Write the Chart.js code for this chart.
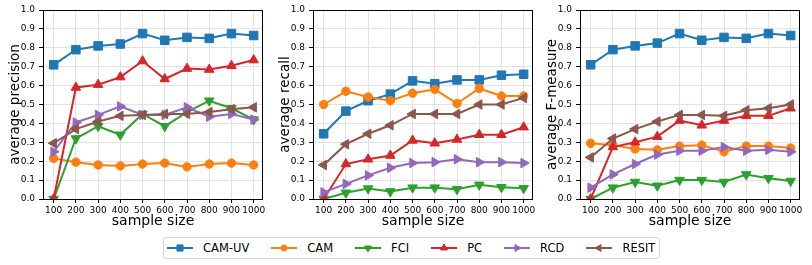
<!DOCTYPE html>
<html>
<head>
<meta charset="utf-8">
<title>average precision / recall / F-measure</title>
<script src="https://cdn.jsdelivr.net/npm/chart.js@4.4.1/dist/chart.umd.min.js"></script>
<style>
  html, body { margin: 0; padding: 0; background: #fff; }
  #page { position: relative; width: 812px; height: 265px; font-family: 'DejaVu Sans', sans-serif; }
  .panel { position: absolute; top: 0; }
  #legend {
    position: absolute; left: 163px; top: 237px; height: 22px;
    box-sizing: border-box; border: 1px solid #d6d6d6; border-radius: 3px;
    display: flex; align-items: center; padding: 0 4px 0 3px; background: #fff;
  }
  .item { display: flex; align-items: center; margin-right: 22px; font-size: 11.5px; color: #000; }
  .item:last-child { margin-right: 0; }
  .item canvas { margin-right: 10px; display: block; }
</style>
</head>
<body>
<div id="page">
  <canvas class="panel" id="precisionChart" width="270" height="232" style="left:0px"></canvas>
  <canvas class="panel" id="recallChart" width="270" height="232" style="left:270px"></canvas>
  <canvas class="panel" id="fmeasureChart" width="270" height="232" style="left:537px"></canvas>
  <div id="legend"></div>
</div>
<script>
// values
const sampleSizes = [100, 200, 300, 400, 500, 600, 700, 800, 900, 1000];
const methods = ['CAM-UV', 'CAM', 'FCI', 'PC', 'RCD', 'RESIT'];
const yTicks = [0.0, 0.1, 0.2, 0.3, 0.4, 0.5, 0.6, 0.7, 0.8, 0.9, 1.0];

// average precision
const precisionCamUv = [0.71, 0.79, 0.81, 0.82, 0.875, 0.84, 0.855, 0.85, 0.875, 0.865];
const precisionCam   = [0.215, 0.195, 0.18, 0.175, 0.185, 0.19, 0.17, 0.185, 0.19, 0.18];
const precisionFci   = [0.0, 0.32, 0.385, 0.34, 0.45, 0.385, 0.46, 0.52, 0.48, 0.42];
const precisionPc    = [0.0, 0.59, 0.605, 0.645, 0.73, 0.635, 0.69, 0.685, 0.705, 0.735];
const precisionRcd   = [0.25, 0.405, 0.445, 0.49, 0.445, 0.445, 0.485, 0.435, 0.45, 0.42];
const precisionResit = [0.295, 0.37, 0.41, 0.44, 0.445, 0.45, 0.45, 0.46, 0.475, 0.485];

// average recall
const recallCamUv = [0.345, 0.465, 0.52, 0.555, 0.625, 0.61, 0.63, 0.63, 0.655, 0.66];
const recallCam   = [0.5, 0.57, 0.54, 0.52, 0.56, 0.58, 0.505, 0.585, 0.545, 0.545];
const recallFci   = [0.0, 0.033, 0.055, 0.04, 0.06, 0.06, 0.052, 0.075, 0.062, 0.057];
const recallPc    = [0.0, 0.185, 0.21, 0.23, 0.31, 0.295, 0.315, 0.34, 0.34, 0.38];
const recallRcd   = [0.035, 0.08, 0.125, 0.165, 0.19, 0.195, 0.21, 0.195, 0.195, 0.19];
const recallResit = [0.18, 0.29, 0.345, 0.39, 0.45, 0.45, 0.45, 0.5, 0.5, 0.535];

// average F-measure
const fmeasureCamUv = [0.71, 0.79, 0.81, 0.825, 0.875, 0.84, 0.855, 0.85, 0.875, 0.865];
const fmeasureCam   = [0.295, 0.285, 0.265, 0.26, 0.28, 0.285, 0.25, 0.28, 0.28, 0.27];
const fmeasureFci   = [0.0, 0.06, 0.09, 0.07, 0.1, 0.1, 0.09, 0.13, 0.11, 0.095];
const fmeasurePc    = [0.0, 0.275, 0.3, 0.33, 0.415, 0.39, 0.415, 0.44, 0.44, 0.48];
const fmeasureRcd   = [0.06, 0.13, 0.185, 0.235, 0.255, 0.255, 0.275, 0.255, 0.26, 0.25];
const fmeasureResit = [0.22, 0.32, 0.37, 0.41, 0.445, 0.445, 0.44, 0.47, 0.48, 0.5];

// matplotlib tab10 colours and markers, one per method
const seriesStyle = [
  { color: '#1f77b4', pointStyle: 'rect', radius: 6, rotation: 0 },
  { color: '#ff7f0e', pointStyle: 'circle', radius: 4.2, rotation: 0 },
  { color: '#2ca02c', pointStyle: 'triangle', radius: 5.5, rotation: 180 },
  { color: '#d62728', pointStyle: 'triangle', radius: 5.5, rotation: 0 },
  { color: '#9467bd', pointStyle: 'triangle', radius: 5.5, rotation: 90 },
  { color: '#8c564b', pointStyle: 'triangle', radius: 5.5, rotation: 270 }
];

const FONT = 'DejaVu Sans';

// black box around the plotting area, like matplotlib spines
const framePlugin = {
  id: 'frame',
  afterDatasetsDraw(chart) {
    const { ctx, chartArea: a } = chart;
    ctx.save();
    ctx.strokeStyle = '#000';
    ctx.lineWidth = 1;
    ctx.strokeRect(Math.round(a.left) + 0.5, Math.round(a.top) + 0.5,
      Math.round(a.right - a.left) - 1, Math.round(a.bottom - a.top));
    ctx.restore();
  }
};

function makeChart(canvasId, yTitle, series) {
  const datasets = series.map(function (values, i) {
    const s = seriesStyle[i];
    return {
      label: methods[i],
      data: sampleSizes.map(function (x, j) { return { x: x, y: values[j] }; }),
      borderColor: s.color,
      backgroundColor: s.color,
      borderWidth: 2,
      pointStyle: s.pointStyle,
      pointRadius: s.radius,
      pointRotation: s.rotation,
      pointBackgroundColor: s.color,
      pointBorderColor: s.color,
      pointBorderWidth: 1,
      tension: 0,
      clip: 0,
      order: methods.length - i
    };
  });

  return new Chart(document.getElementById(canvasId), {
    type: 'line',
    data: { datasets: datasets },
    options: {
      responsive: false,
      animation: false,
      events: [],
      layout: { padding: { top: 10, right: 3, left: 0, bottom: 0 } },
      plugins: { legend: { display: false }, tooltip: { enabled: false } },
      scales: {
        x: {
          type: 'linear',
          min: 52,
          max: 1042,
          afterBuildTicks: function (scale) {
            scale.ticks = sampleSizes.map(function (v) { return { value: v }; });
          },
          afterFit: function (scale) {
            scale.height = 33;
            scale.paddingLeft = 0;
            scale.paddingRight = 0;
          },
          border: { display: false },
          grid: { color: '#e3e3e3', lineWidth: 1, tickColor: '#000', tickLength: 4 },
          ticks: {
            color: '#000', padding: 2, maxRotation: 0, autoSkip: false,
            font: { family: FONT, size: 9 },
            callback: function (v) { return String(v); }
          },
          title: {
            display: true, text: 'sample size', color: '#000',
            font: { family: FONT, size: 14 }, padding: { top: 0, bottom: 2 }
          }
        },
        y: {
          type: 'linear',
          min: 0,
          max: 1,
          afterBuildTicks: function (scale) {
            scale.ticks = yTicks.map(function (v) { return { value: v }; });
          },
          afterFit: function (scale) {
            scale.width = 43;
            scale.paddingTop = 0;
            scale.paddingBottom = 0;
          },
          border: { display: false },
          grid: { color: '#e3e3e3', lineWidth: 1, tickColor: '#000', tickLength: 4 },
          ticks: {
            color: '#000', padding: 4,
            font: { family: FONT, size: 9 },
            callback: function (v) { return Number(v).toFixed(1); }
          },
          title: {
            display: true, text: yTitle, color: '#000',
            font: { family: FONT, size: 13.5 }, padding: { top: 7, bottom: 0 }
          }
        }
      }
    },
    plugins: [framePlugin]
  });
}

makeChart('precisionChart', 'average precision',
  [precisionCamUv, precisionCam, precisionFci, precisionPc, precisionRcd, precisionResit]);
makeChart('recallChart', 'average recall',
  [recallCamUv, recallCam, recallFci, recallPc, recallRcd, recallResit]);
makeChart('fmeasureChart', 'average F-measure',
  [fmeasureCamUv, fmeasureCam, fmeasureFci, fmeasurePc, fmeasureRcd, fmeasureResit]);

// legend: line sample with marker, then the method name
const legendEl = document.getElementById('legend');
methods.forEach(function (name, i) {
  const s = seriesStyle[i];
  const item = document.createElement('div');
  item.className = 'item';
  const c = document.createElement('canvas');
  c.width = 26;
  c.height = 12;
  const ctx = c.getContext('2d');
  ctx.strokeStyle = s.color;
  ctx.fillStyle = s.color;
  ctx.lineWidth = 2;
  ctx.beginPath();
  ctx.moveTo(0, 6);
  ctx.lineTo(26, 6);
  ctx.stroke();
  ctx.lineWidth = 1;
  Chart.helpers.drawPoint(ctx, {
    pointStyle: s.pointStyle,
    radius: s.radius * 0.72,
    rotation: s.rotation,
    borderWidth: 1
  }, 13, 6);
  const label = document.createElement('span');
  label.textContent = name;
  item.appendChild(c);
  item.appendChild(label);
  legendEl.appendChild(item);
});
</script>
</body>
</html>
